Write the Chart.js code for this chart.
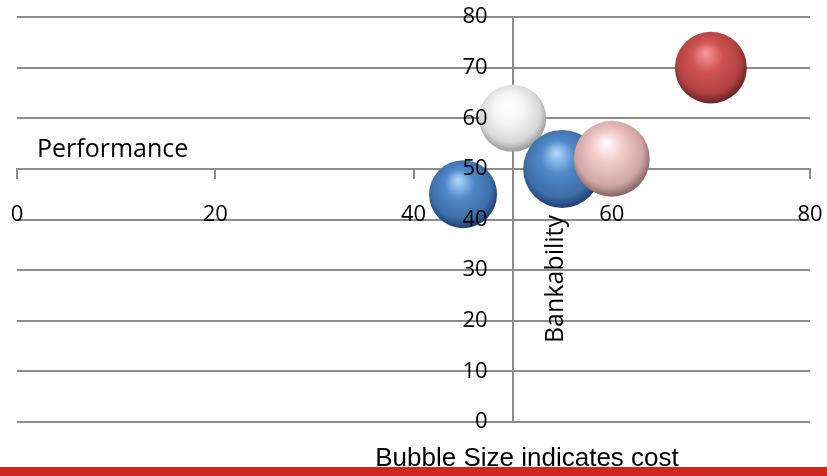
<!DOCTYPE html>
<html>
<head>
<meta charset="utf-8">
<script src="https://cdn.jsdelivr.net/npm/chart.js@4/dist/chart.umd.min.js"></script>
<style>
  html, body { margin: 0; padding: 0; background: #ffffff; }
  #wrap { width: 827px; height: 476px; position: relative; }
</style>
</head>
<body>
<div id="wrap"><canvas id="c" width="827" height="476"></canvas></div>
<script>
// ---- data ----
const projects     = ['Project A', 'Project B', 'Project C', 'Project D', 'Project E'];
const performance  = [45, 50, 55, 60, 70];   // x values
const bankability  = [45, 60, 50, 52, 70];   // y values
const cost         = [76, 74, 100, 95, 85];  // bubble size
const xTicks       = [0, 20, 40, 60, 80];
const yTicks       = [0, 10, 20, 30, 40, 50, 60, 70, 80];

// ---- styles ----
const sphereColors = [
  { hi: '#b2dcff', base: '#5189c9', dark: '#3d6ea9', edge: '#22467a' }, // blue
  { hi: '#ffffff', base: '#f6f6f6', dark: '#d8d8d8', edge: '#a0a0a0' }, // white
  { hi: '#b2dcff', base: '#5189c9', dark: '#3d6ea9', edge: '#22467a' }, // blue
  { hi: '#ffffff', base: '#f0c8c7', dark: '#d0a6a5', edge: '#8e6c6c' }, // pink
  { hi: '#f99a99', base: '#cf5453', dark: '#b04140', edge: '#70262a' }  // red
];
const MAX_R = 39;
const maxCost = Math.max(...cost);
const radius = i => MAX_R * Math.sqrt(cost[i] / maxCost);
const GRID = '#8c8c8c';

function sphereFill(ctx) {
  const i = ctx.dataIndex;
  const c = sphereColors[i] || sphereColors[0];
  const chart = ctx.chart;
  const xs = chart.scales && chart.scales.x, ys = chart.scales && chart.scales.y;
  if (i === undefined || !xs || !ys) return c.base;
  const cx = xs.getPixelForValue(performance[i]);
  const cy = ys.getPixelForValue(bankability[i]);
  const r = radius(i);
  if (!isFinite(cx) || !isFinite(cy)) return c.base;
  const g = chart.ctx.createRadialGradient(cx - 0.15 * r, cy - 0.42 * r, 0, cx - 0.05 * r, cy - 0.12 * r, r * 1.08);
  g.addColorStop(0, c.hi);
  g.addColorStop(0.4, c.base);
  g.addColorStop(0.82, c.dark);
  g.addColorStop(1, c.edge);
  return g;
}

const zeroPad = s => { s.paddingLeft = 0; s.paddingRight = 0; s.paddingTop = 0; s.paddingBottom = 0; };

const textPlugin = {
  id: 'texts',
  afterDatasetsDraw(chart) {
    const { ctx, scales: { x, y }, chartArea } = chart;
    ctx.save();
    // y tick labels, left of the vertical axis at x = 50
    ctx.font = '22px "Open Sans"';
    ctx.fillStyle = '#000';
    ctx.textAlign = 'right';
    ctx.textBaseline = 'middle';
    const ax = x.getPixelForValue(50);
    yTicks.forEach(v => ctx.fillText(String(v), ax - 25, y.getPixelForValue(v)));

    // "Performance"
    ctx.font = '25px "Open Sans"';
    ctx.textAlign = 'left';
    ctx.textBaseline = 'alphabetic';
    ctx.fillText('Performance', chartArea.left + 20, 157);

    // "Bankability" rotated
    ctx.save();
    ctx.translate(563, 279);
    ctx.rotate(-Math.PI / 2);
    ctx.textAlign = 'center';
    ctx.fillText('Bankability', 0, 0);
    ctx.restore();

    // bottom note
    ctx.font = '26px "Liberation Sans"';
    ctx.textAlign = 'center';
    ctx.fillText('Bubble Size indicates cost', 527, 466);

    // red footer bar
    ctx.fillStyle = '#d0261c';
    ctx.fillRect(0, 467, chart.width, chart.height - 467);
    ctx.restore();
  }
};

new Chart(document.getElementById('c'), {
  type: 'bubble',
  data: {
    datasets: [{
      label: 'Cost',
      data: performance.map((p, i) => ({ x: p, y: bankability[i], r: radius(i), name: projects[i] })),
      backgroundColor: sphereFill,
      borderWidth: 0,
      hoverBorderWidth: 0,
      clip: false
    }]
  },
  options: {
    responsive: false,
    devicePixelRatio: 1,
    animation: false,
    events: [],
    layout: { autoPadding: false, padding: { left: 17, right: 17, top: 17, bottom: 54 } },
    plugins: { legend: { display: false }, tooltip: { enabled: false } },
    scales: {
      x: {
        type: 'linear',
        min: 0, max: 80,
        position: { y: 50 },
        afterBuildTicks: s => { s.ticks = xTicks.map(v => ({ value: v })); },
        afterFit: zeroPad,
        ticks: {
          autoSkip: false, maxRotation: 0,
          font: { family: 'Open Sans', size: 22 },
          color: '#000', padding: 24
        },
        grid: { drawOnChartArea: false, drawTicks: true, tickLength: 9, color: GRID, lineWidth: 2 },
        border: { display: true, color: GRID, width: 2 }
      },
      y: {
        type: 'linear',
        min: 0, max: 80,
        position: { x: 50 },
        afterBuildTicks: s => { s.ticks = yTicks.map(v => ({ value: v })); },
        afterFit: zeroPad,
        ticks: { display: false },
        grid: { drawOnChartArea: true, drawTicks: false, color: GRID, lineWidth: 2 },
        border: { display: true, color: GRID, width: 2 }
      }
    }
  },
  plugins: [textPlugin]
});
</script>
</body>
</html>
